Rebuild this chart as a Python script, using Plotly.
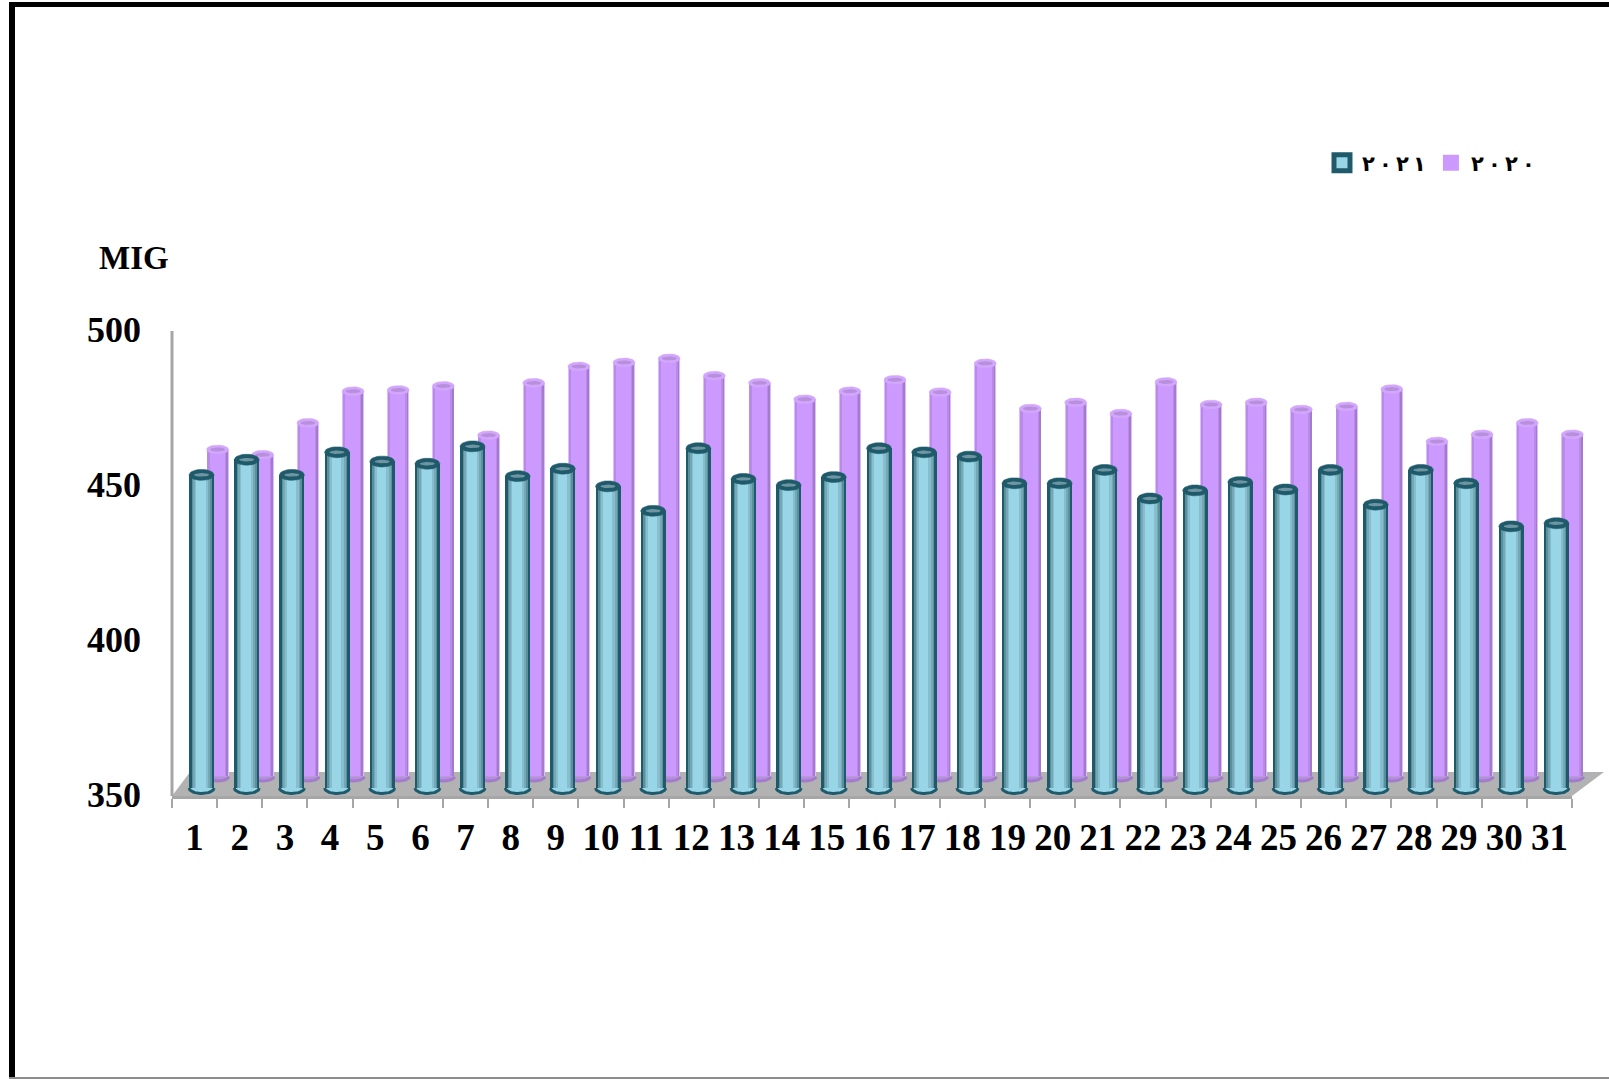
import math
import plotly.graph_objects as go

days = list(range(1, 32))
values_2021 = [452.3, 457.2, 452.3, 459.6, 456.6, 455.9, 461.5, 451.9, 454.3, 448.6, 440.7, 460.9, 451.0, 449.0, 451.6, 460.9,
               459.6, 458.2, 449.6, 449.6, 453.9, 444.7, 447.3, 450.0, 447.6, 453.9, 442.7, 453.9, 449.6, 435.7, 436.7]
values_2020 = [456.6, 454.9, 465.2, 475.4, 475.8, 477.1, 461.2, 478.1, 483.4, 484.7, 486.0, 480.4, 478.1, 472.8, 475.4, 479.1,
               475.1, 484.4, 469.8, 471.8, 468.2, 478.4, 471.1, 471.8, 469.5, 470.5, 476.1, 459.2, 461.5, 465.2, 461.5]
y_ticks = [350, 400, 450, 500]
LRM = "\u200e"
THIN = "\u2009"
name_2021 = f"٢{LRM}{THIN}٠{LRM}{THIN}٢{LRM}{THIN}١{LRM}"
name_2020 = f"٢{LRM}{THIN}٠{LRM}{THIN}٢{LRM}{THIN}٠{LRM}"

W, H = 1609, 1079
AX_L, AX_R = 172, 1572
AX_BOTTOM = 796
PX_PER_UNIT = 3.1
PX_PER_DAY = (AX_R - AX_L) / 31
SERIF = "Liberation Serif"


def yrange(bottom_px):
    """Range of an overlaying axis whose value 350 sits at pixel row bottom_px."""
    shift = (AX_BOTTOM - bottom_px) / PX_PER_UNIT
    return [350 - shift, 500 - shift + 8]


def ellipse(cx, cy, w_px, h_px, half=False):
    xs, ys = [], []
    n = 28
    for cx_i, cy_i in zip(cx, cy):
        for k in range(n + 1):
            t = (math.pi + math.pi * k / n) if half else 2 * math.pi * k / n
            xs.append(cx_i + math.cos(t) * w_px / 2 / PX_PER_DAY)
            ys.append(cy_i + math.sin(t) * h_px / 2 / PX_PER_UNIT)
        xs.append(None)
        ys.append(None)
    return xs, ys


fig = go.Figure()


def cylinder(vals, yaxis, dx_px, width_px, base_lift, layers, cap_outer, cap_inner, cap_size, inner_size, base_fill, base_line):
    base = 350 + base_lift
    centers = [d + dx_px / PX_PER_DAY for d in days]
    for frac_l, frac_r, col in layers:
        wl = width_px * frac_l / PX_PER_DAY
        wr = width_px * frac_r / PX_PER_DAY
        fig.add_bar(x=days, y=[v - base for v in vals], base=base, yaxis=yaxis,
                    width=wl + wr, offset=dx_px / PX_PER_DAY - wl,
                    marker=dict(color=col, line=dict(width=0)), showlegend=False, hoverinfo="skip")
    xb, yb = ellipse(centers, [base] * 31, width_px, cap_size[1], half=True)
    fig.add_scatter(x=xb, y=yb, yaxis=yaxis, mode="lines", fill="toself", fillcolor=base_fill,
                    line=dict(color=base_line, width=3), showlegend=False, hoverinfo="skip")
    xc, yc = ellipse(centers, vals, cap_size[0], cap_size[1])
    fig.add_scatter(x=xc, y=yc, yaxis=yaxis, mode="lines", fill="toself", fillcolor=cap_outer,
                    line=dict(color=cap_outer, width=0.5), showlegend=False, hoverinfo="skip")
    xi, yi = ellipse(centers, vals, inner_size[0], inner_size[1])
    fig.add_scatter(x=xi, y=yi, yaxis=yaxis, mode="lines", fill="toself", fillcolor=cap_inner,
                    line=dict(color=cap_inner, width=0), showlegend=False, hoverinfo="skip")


fig.add_scatter(x=[None], y=[None], mode="markers", name=name_2021, legendrank=1,
                marker=dict(symbol="square", size=16, color="#98D5E6", line=dict(color="#1F5A6B", width=5)))
fig.add_scatter(x=[None], y=[None], mode="markers", name=name_2020, legendrank=2,
                marker=dict(symbol="square", size=16, color="#CC99FF", line=dict(width=0)))

purple_layers = [
    (0.50, 0.50, "#DDBBFF"),
    (0.46, 0.46, "#A27CC9"),
    (0.46, 0.38, "#B88BE6"),
    (0.36, 0.32, "#CC99FF"),
]
teal_layers = [
    (0.50, 0.50, "#1F5A6B"),
    (0.40, 0.40, "#5A8F9E"),
    (0.34, 0.34, "#75A8B7"),
    (0.27, 0.27, "#87BDCC"),
    (0.21, 0.17, "#98D5E6"),
]
cylinder(values_2020, "y2", 23, 22, 1.1, purple_layers, "#D2A6FA", "#B78FDC", (22, 9), (15, 4), "#B88BE6", "#A27CC9")
cylinder(values_2021, "y3", 7, 25, 1.3, teal_layers, "#1F5A6B", "#6E95A1", (25, 11), (15, 3.5), "#98D5E6", "#1F5A6B")

fig.update_layout(
    width=W, height=H, autosize=False,
    margin=dict(l=0, r=0, t=0, b=0),
    paper_bgcolor="white", plot_bgcolor="rgba(0,0,0,0)",
    barmode="overlay", bargap=0,
    font=dict(family=SERIF, color="black"),
    showlegend=True,
    legend=dict(orientation="h", x=1322 / W, y=1 - 163 / H, xanchor="left", yanchor="middle",
                font=dict(family="DejaVu Sans", size=21, weight="bold", color="black"),
                itemsizing="trace", itemwidth=30, bgcolor="rgba(0,0,0,0)", traceorder="normal"),
    xaxis=dict(domain=[AX_L / W, 1], range=[0.5, 0.5 + (W - AX_L) / PX_PER_DAY], tickmode="array", automargin=False,
               tickvals=days, ticktext=[str(d) for d in days], ticks="", showgrid=False, zeroline=False,
               showline=False, tickfont=dict(family=SERIF, size=37, weight="bold", color="black"),
               ticklabelstandoff=16, tickangle=0),
    xaxis2=dict(domain=[AX_L / W, AX_R / W], range=[0, 31], anchor="y", side="bottom", automargin=False,
                tickmode="array", tickvals=[0] + days, showticklabels=False, ticks="outside", ticklen=9,
                tickwidth=2, tickcolor="#A6A6A6", showgrid=False, zeroline=False,
                showline=True, linecolor="#A6A6A6", linewidth=3),
    yaxis=dict(domain=[1 - AX_BOTTOM / H, 1 - (AX_BOTTOM - 158 * PX_PER_UNIT) / H], range=[350, 508],
               tickmode="array", tickvals=y_ticks, automargin=False,
               tickfont=dict(family=SERIF, size=36, weight="bold", color="black"),
               ticks="", showgrid=False, zeroline=False, showline=False, ticklabelstandoff=30, ticklabelshift=-2),
    yaxis2=dict(range=yrange(780), overlaying="y", visible=False, automargin=False),
    yaxis3=dict(range=yrange(792), overlaying="y", visible=False, automargin=False),
)
fig.add_scatter(x=[0, 31], y=[350, 350], xaxis="x2", yaxis="y", mode="lines", line=dict(width=0),
                showlegend=False, hoverinfo="skip")

fig.add_annotation(text="<b>MIG</b>", xref="paper", yref="paper", x=134 / W, y=1 - 258 / H, showarrow=False,
                   xanchor="center", yanchor="middle", font=dict(family=SERIF, size=33, color="black"))

# vertical axis line, floor and outer frame
fig.add_shape(type="line", xref="paper", yref="y", x0=AX_L / W, x1=AX_L / W, y0=350, y1=500,
              line=dict(color="#A6A6A6", width=3))
fig.add_shape(type="path", xref="paper", yref="paper", layer="below", line=dict(width=0), fillcolor="#B2B2B2",
              path=f"M {AX_L / W} {1 - AX_BOTTOM / H} L {190 / W} {1 - 772 / H} L {1604 / W} {1 - 772 / H} L {AX_R / W} {1 - AX_BOTTOM / H} Z")
for x0, y0, x1, y1, col in [(9, 2, W, 7, "black"), (9, 2, 15, H, "black"), (9, 1077, W, H, "#8C8C8C")]:
    fig.add_shape(type="rect", xref="paper", yref="paper", line=dict(width=0), fillcolor=col,
                  x0=x0 / W, x1=x1 / W, y0=1 - y0 / H, y1=1 - y1 / H)

fig.write_html("out.html", config={"displayModeBar": False},
               post_script="document.body.style.margin='0';document.documentElement.style.overflow='hidden';")
